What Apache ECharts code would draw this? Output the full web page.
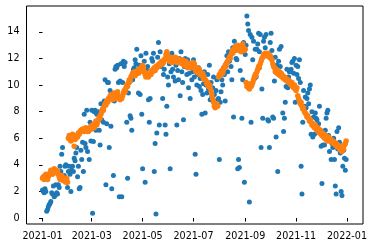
<!DOCTYPE html>
<html>
<head>
<meta charset="utf-8">
<script src="https://cdn.jsdelivr.net/npm/echarts@6/dist/echarts.min.js"></script>
<style>
html,body{margin:0;padding:0;background:#fff;}
#chart{width:375px;height:248px;}
</style>
</head>
<body>
<div id="chart"></div>
<script>
// Daily series for 2021 (index 0 = 2021-01-01)
const startDate = '2021-01-01';
const blueValues = [
  // Jan
  2.1, 2.0, 1.9, 2.2, 2.0, 0.5, 0.65, 0.85, 1.0, 1.1, 1.25, 1.9, 1.8, 2.4, 1.6, 1.7, 2.5, 1.9, 1.8, 2.5, 2.3, 3.9, 3.5, 4.8, 5.3, 3.1, 3.2, 3.9, 4.0, 2.9, 2.3,
  // Feb
  3.5, 3.9, 3.3, 2.0, 3.6, 3.9, 3.5, 4.5, 4.3, 4.9, 5.3, 3.1, 3.9, 2.2, 2.3, 5.1, 4.4, 5.7, 3.5, 7.8, 5.6, 5.3, 8.1, 5.0, 6.5, 4.4, 7.2, 5.8,
  // Mar
  8.1, 0.35, 5.75, 8.0, 8.1, 6.6, 7.8, 7.2, 8.0, 6.6, 5.5, 8.6, 7.4, 8.1, 7.2, 8.8, 10.4, 2.5, 7.1, 10.2, 10.2, 5.3, 9.6, 6.9, 2.2, 9.2, 3.2, 8.8, 11.2, 11.4, 11.3,
  // Apr
  11.5, 10.2, 1.6, 10.3, 11.6, 1.6, 10.2, 11.8, 11.4, 11.7, 9.5, 7.2, 3.0, 9.4, 10.2, 7.7, 7.5, 6.6, 10.4, 11.2, 11.3, 11.9, 11.6, 12.7, 10.9, 9.4, 11.5, 9.3, 12.2, 7.8,
  // May
  3.7, 11.0, 11.8, 2.7, 12.4, 11.1, 11.4, 8.9, 7.2, 9.0, 11.0, 12.0, 11.8, 12.4, 3.5, 5.6, 0.3, 6.4, 12.1, 13.2, 7.0, 12.5, 11.4, 11.7, 9.0, 10.8, 11.2, 7.0, 6.3, 8.4, 10.6,
  // Jun
  10.0, 11.6, 3.7, 11.0, 12.4, 11.2, 10.6, 11.8, 10.3, 11.5, 7.0, 11.1, 10.4, 12.0, 9.2, 12.5, 11.0, 10.2, 7.4, 11.4, 12.0, 11.6, 10.8, 11.9, 9.8, 10.9, 9.0, 11.3, 10.4, 11.0,
  // Jul
  11.9, 10.6, 4.8, 3.3, 10.0, 10.8, 11.3, 9.9, 10.5, 9.6, 7.8, 9.3, 10.1, 11.0, 7.9, 10.0, 9.4, 10.8, 9.7, 11.5, 8.9, 10.2, 9.1, 9.8, 10.6, 9.3, 8.4, 9.6, 10.4, 8.9, 9.0,
  // Aug
  4.4, 8.7, 9.5, 10.4, 10.0, 11.3, 10.8, 8.8, 11.6, 12.2, 11.0, 12.5, 11.8, 12.3, 11.4, 10.4, 12.8, 7.6, 13.3, 12.6, 12.0, 11.9, 3.7, 4.4, 3.8, 11.1, 12.9, 7.5, 10.4, 13.2, 2.7,
  // Sep
  12.3, 13.0, 15.2, 14.6, 14.1, 1.2, 13.8, 7.2, 13.6, 11.9, 13.3, 10.5, 12.7, 10.6, 12.7, 13.1, 13.9, 12.5, 13.8, 5.3, 9.7, 7.5, 13.3, 13.6, 12.8, 13.8, 12.2, 7.4, 7.3, 5.3,
  // Oct
  13.2, 13.9, 12.6, 7.6, 7.5, 10.3, 12.1, 6.1, 11.5, 3.5, 11.8, 12.7, 11.4, 12.9, 10.8, 7.9, 6.5, 7.5, 8.7, 9.9, 11.2, 9.8, 10.6, 11.0, 10.2, 11.2, 11.7, 11.8, 10.9, 12.0, 8.7,
  // Nov
  11.5, 10.8, 11.4, 10.5, 11.9, 10.2, 3.9, 1.8, 7.2, 9.6, 8.4, 9.1, 8.3, 9.0, 9.4, 8.6, 9.7, 10.0, 6.3, 8.0, 6.1, 7.6, 6.3, 7.9, 7.5, 7.4, 6.8, 7.1, 8.4, 6.6,
  // Dec
  5.4, 2.6, 5.5, 6.4, 5.5, 6.6, 7.5, 7.9, 8.1, 6.2, 5.0, 5.9, 4.4, 5.6, 5.3, 6.0, 4.4, 2.4, 1.8, 6.5, 5.2, 6.8, 5.7, 4.9, 2.0, 1.7, 3.9, 5.1, 4.5, 3.6, 4.4
];
const orangeValues = [
  // Jan
  3.0, 3.1, 2.9, 3.2, 3.3, 3.0, 2.9, 3.1, 3.3, 3.4, 3.6, 3.5, 3.3, 3.5, 3.7, 3.6, 3.4, 3.6, 3.5, 3.3, 3.1, 2.9, 3.0, 3.2, 3.0, 2.8, 3.0, 2.9, 2.7, 3.0, 2.7,
  // Feb
  6.0, 6.2, 5.9, 5.8, 6.1, 6.3, 6.0, 5.4, 5.9, 6.0, 6.2, 6.1, 6.4, 6.3, 6.5, 6.6, 6.5, 6.7, 6.6, 6.5, 6.7, 6.8, 6.6, 6.5, 6.7, 6.6, 6.8, 6.9,
  // Mar
  6.7, 7.0, 7.0, 6.8, 7.1, 7.3, 7.0, 7.2, 7.4, 7.6, 7.5, 7.8, 8.0, 8.2, 8.1, 8.4, 8.6, 8.5, 8.8, 8.7, 9.0, 8.9, 9.2, 9.0, 9.3, 8.9, 9.1, 9.4, 9.2, 9.0, 9.3,
  // Apr
  9.5, 9.2, 9.0, 8.9, 9.1, 9.0, 9.2, 9.4, 9.6, 9.5, 9.8, 10.0, 9.9, 10.2, 10.4, 10.3, 10.6, 10.7, 10.9, 10.8, 11.0, 10.7, 10.9, 11.0, 11.1, 10.9, 11.2, 11.0, 11.3, 11.4,
  // May
  11.5, 11.3, 11.0, 10.8, 10.6, 10.9, 10.8, 10.6, 10.9, 11.0, 10.8, 11.1, 11.0, 11.2, 11.3, 11.1, 11.4, 11.3, 11.5, 11.4, 11.6, 11.5, 11.7, 11.8, 11.6, 11.7, 11.9, 12.0, 12.3, 12.5, 12.2,
  // Jun
  12.0, 11.8, 12.1, 11.9, 11.7, 12.0, 11.8, 11.9, 12.1, 11.9, 11.7, 12.0, 11.8, 11.9, 11.7, 11.8, 11.6, 11.9, 11.7, 11.5, 11.6, 11.8, 11.4, 11.3, 11.5, 11.4, 11.6, 11.3, 11.5, 11.7,
  // Jul
  11.4, 11.6, 11.2, 11.0, 11.3, 11.1, 10.9, 11.2, 10.8, 10.9, 10.7, 10.9, 10.5, 10.6, 10.4, 10.3, 10.1, 10.2, 9.9, 10.0, 9.8, 9.6, 9.3, 9.0, 8.7, 8.4, 8.3, 8.5, 8.6, 8.4, 10.6,
  // Aug
  10.8, 10.7, 11.0, 11.1, 10.9, 11.2, 11.3, 11.5, 11.4, 11.7, 11.8, 11.9, 12.1, 12.0, 12.3, 12.5, 12.4, 12.7, 12.6, 12.9, 12.7, 12.8, 13.0, 12.9, 12.6, 12.8, 12.5, 12.9, 13.1, 12.8, 12.6,
  // Sep
  12.7, 10.2, 9.9, 10.0, 9.8, 9.7, 10.1, 9.9, 10.0, 10.2, 10.4, 10.6, 10.8, 10.7, 11.0, 11.2, 11.4, 11.3, 11.6, 11.8, 12.0, 12.1, 12.3, 12.2, 12.4, 12.3, 12.2, 12.4, 12.3, 12.1,
  // Oct
  12.2, 12.0, 11.9, 11.6, 11.4, 11.3, 11.0, 11.2, 10.9, 11.1, 10.8, 11.0, 10.7, 10.9, 10.6, 10.7, 10.5, 10.6, 10.4, 10.5, 10.3, 10.4, 10.2, 10.3, 10.1, 10.0, 10.2, 9.9, 9.8, 10.0, 9.7,
  // Nov
  9.6, 9.8, 9.2, 9.0, 8.8, 8.6, 8.7, 8.4, 8.2, 8.3, 8.0, 7.9, 7.8, 7.6, 7.7, 7.5, 7.3, 7.4, 7.2, 7.0, 7.1, 6.9, 6.8, 7.0, 6.7, 6.6, 6.8, 6.5, 6.4, 6.6,
  // Dec
  6.3, 6.2, 6.4, 6.1, 6.0, 6.2, 5.9, 6.0, 5.8, 6.1, 5.9, 5.8, 5.9, 5.7, 5.8, 5.6, 5.7, 5.5, 5.6, 5.4, 5.5, 5.3, 5.2, 5.4, 5.1, 5.0, 5.3, 5.2, 5.5, 5.6, 5.8
];
// x tick positions (day offset from startDate) and their labels
const xTickDays = [0, 59, 120, 181, 243, 304, 365];
const xTickLabels = ['2021-01', '2021-03', '2021-05', '2021-07', '2021-09', '2021-11', '2022-01'];
const yTickValues = [0, 2, 4, 6, 8, 10, 12, 14];

const blueData = blueValues.map((v, i) => [i, v]);
const orangeData = orangeValues.map((v, i) => [i, v]);

const font = 'DejaVu Sans';
const chart = echarts.init(document.getElementById('chart'), null, {renderer: 'canvas'});
chart.setOption({
  animation: false,
  backgroundColor: '#ffffff',
  grid: {
    left: 26.5, right: 12, top: 6, bottom: 24,
    containLabel: false, outerBoundsMode: 'none',
    show: true, borderColor: '#000', borderWidth: 1, backgroundColor: 'transparent'
  },
  xAxis: {
    type: 'value',
    min: -19.2, max: 384.2,
    splitLine: {show: false},
    axisLine: {show: false},
    axisTick: {show: true, inside: false, length: 3.5, lineStyle: {color: '#000', width: 1}, customValues: xTickDays},
    axisLabel: {
      show: true, margin: 7, color: '#000', fontFamily: font, fontSize: 9.6,
      customValues: xTickDays,
      formatter: function (v) { const k = xTickDays.indexOf(v); return k >= 0 ? xTickLabels[k] : ''; }
    }
  },
  yAxis: {
    type: 'value',
    min: -0.45, max: 15.95,
    splitLine: {show: false},
    axisLine: {show: false},
    axisTick: {show: true, inside: false, length: 3.5, lineStyle: {color: '#000', width: 1}, customValues: yTickValues},
    axisLabel: {
      show: true, margin: 7, color: '#000', fontFamily: font, fontSize: 9.6,
      customValues: yTickValues,
      formatter: function (v) { return String(v); }
    }
  },
  series: [
    {
      name: 'daily', type: 'scatter', data: blueData,
      symbol: 'circle', symbolSize: 5,
      itemStyle: {color: '#1f77b4', opacity: 1},
      z: 2
    },
    {
      name: 'smoothed', type: 'scatter', data: orangeData,
      symbol: 'circle', symbolSize: 5.5,
      itemStyle: {color: '#ff7f0e', opacity: 1},
      z: 3
    }
  ]
});
</script>
</body>
</html>
